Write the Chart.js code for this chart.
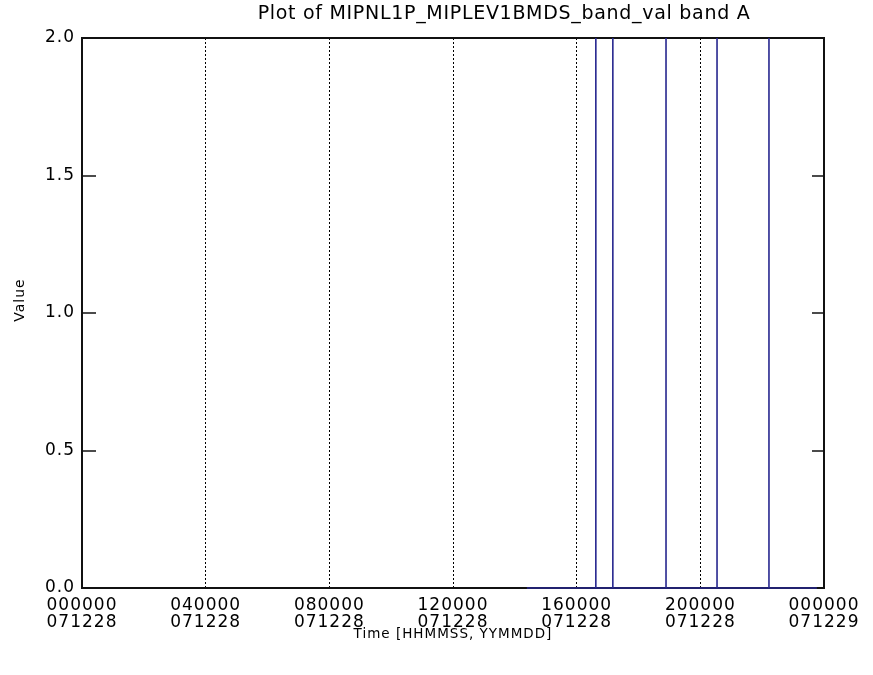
<!DOCTYPE html>
<html>
<head>
<meta charset="utf-8">
<script src="https://cdn.jsdelivr.net/npm/chart.js@4"></script>
<style>
  html, body { margin: 0; padding: 0; background: #fff; }
  #wrap { width: 873px; height: 675px; }
</style>
</head>
<body>
<div id="wrap"><canvas id="chart1" width="873" height="675"></canvas></div>
<script>
// time in hours since 000000 071228, value of band A
var timeHours = [14.39, 16.62, 16.62, 16.62, 17.17, 17.17, 17.17, 18.89, 18.89, 18.89,
                 20.54, 20.54, 20.54, 22.22, 22.22, 22.22, 23.77];
var bandValues = [0, 0, 3, 0, 0, 3, 0, 0, 3, 0, 0, 3, 0, 0, 3, 0, 0];
var xTickLabels = [['000000', '071228'], ['040000', '071228'], ['080000', '071228'],
                   ['120000', '071228'], ['160000', '071228'], ['200000', '071228'],
                   ['000000', '071229']];
var yTicks = [0, 0.5, 1.0, 1.5, 2.0];
var plotTitle = 'Plot of MIPNL1P_MIPLEV1BMDS_band_val band A';

var points = [];
for (var i = 0; i < timeHours.length; i++) {
    points.push({ x: timeHours[i], y: bandValues[i] });
}

// box round the plot, inward y ticks, title and y label
var frame = {
    id: 'frame',
    beforeDraw: function (chart) {
        chart.ctx.letterSpacing = '1px';
    },
    beforeDatasetsDraw: function (chart) {
        var ctx = chart.ctx, a = chart.chartArea, y = chart.scales.y;
        ctx.save();
        ctx.strokeStyle = '#111';
        ctx.lineWidth = 2;
        ctx.strokeRect(a.left, a.top, a.right - a.left, a.bottom - a.top);
        ctx.lineWidth = 1.5;
        for (var k = 1; k < yTicks.length - 1; k++) {
            var py = Math.round(y.getPixelForValue(yTicks[k]));
            ctx.beginPath();
            ctx.moveTo(a.left, py); ctx.lineTo(a.left + 14, py);
            ctx.moveTo(a.right, py); ctx.lineTo(a.right - 12, py);
            ctx.stroke();
        }
        ctx.fillStyle = '#000';
        ctx.textAlign = 'center';
        ctx.textBaseline = 'middle';
        ctx.letterSpacing = '0.7px';
        ctx.font = '19px "DejaVu Sans"';
        ctx.fillText(plotTitle, 504, 14);
        ctx.letterSpacing = '1px';
        ctx.translate(20, 300);
        ctx.rotate(-Math.PI / 2);
        ctx.font = '14px "DejaVu Sans"';
        ctx.fillText('Value', 0, 0);
        ctx.restore();
    }
};

var ctx = document.getElementById('chart1').getContext('2d');
var myChart = new Chart(ctx, {
    type: 'line',
    data: {
        datasets: [{
            data: points,
            borderColor: '#27278f',
            borderWidth: 1.6,
            pointRadius: 0,
            tension: 0,
            fill: false,
            clip: { left: 0, top: 0, right: 0, bottom: 3 }
        }]
    },
    options: {
        responsive: false,
        animation: false,
        layout: { padding: { left: 0, right: 49, top: 38, bottom: 0 } },
        plugins: {
            legend: { display: false },
            tooltip: { enabled: false },
            title: { display: false }
        },
        scales: {
            x: {
                type: 'linear',
                min: 0,
                max: 24,
                border: { display: false, dash: [2, 2] },
                grid: {
                    drawTicks: false,
                    lineWidth: 1,
                    color: function (c) {
                        var v = c.tick ? c.tick.value : 0;
                        return (v === 0 || v === 24) ? 'rgba(0,0,0,0)' : '#000';
                    }
                },
                ticks: {
                    stepSize: 4,
                    maxRotation: 0,
                    padding: 9,
                    color: '#000',
                    font: { family: 'DejaVu Sans', size: 17, lineHeight: 1.0 },
                    callback: function (v, idx) { return xTickLabels[idx]; }
                },
                title: {
                    display: true,
                    text: 'Time [HHMMSS, YYMMDD]',
                    color: '#000',
                    font: { family: 'DejaVu Sans', size: 13.5 },
                    padding: { top: 0, bottom: 32 }
                },
                afterFit: function (s) { s.height = 87; }
            },
            y: {
                min: 0,
                max: 2,
                border: { display: false },
                grid: { display: false, drawTicks: false },
                ticks: {
                    stepSize: 0.5,
                    padding: 7,
                    color: '#000',
                    font: { family: 'DejaVu Sans', size: 17 },
                    callback: function (v) { return v.toFixed(1); }
                },
                afterFit: function (s) { s.width = 82; }
            }
        }
    },
    plugins: [frame]
});
</script>
</body>
</html>
